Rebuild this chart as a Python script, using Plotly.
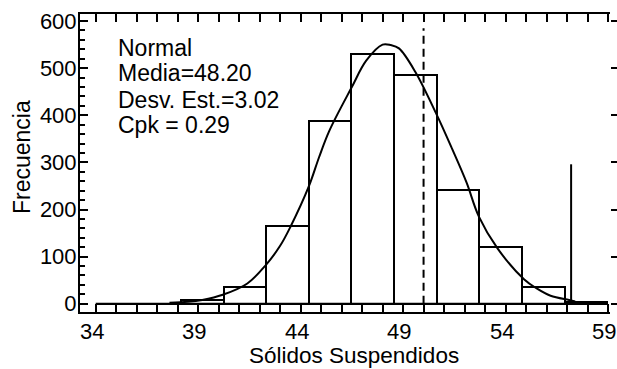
import plotly.graph_objects as go

# ---- data ----
bin_start = 34.0
bin_width = 2.08
counts = [0, 0, 8, 35, 165, 387, 530, 486, 241, 120, 35, 4]

curve_x = [37.6, 38.5, 39.2, 40.2, 41.4, 42.3, 43.0, 43.5, 44.4, 44.9, 45.4, 46.5,
           47.2, 48.0, 48.4, 48.8, 49.6, 50.6, 51.4, 52.1, 52.7, 53.6, 54.9, 55.5,
           56.2, 57.1, 57.4]
curve_y = [2, 4, 8, 19, 43, 82, 123, 163, 249, 311, 367, 460,
           516, 550, 549, 542, 492, 405, 328, 257, 185, 118, 52, 33,
           17, 8, 5]

target_x = 50.0
target_top = 585
limit_x = 57.2
limit_top = 296

x_ticks = [34, 39, 44, 49, 54, 59]
y_ticks = [0, 100, 200, 300, 400, 500, 600]

stats_lines = ["Normal", "Media=48.20", "Desv. Est.=3.02", "Cpk = 0.29"]
x_title = "Sólidos Suspendidos"
y_title = "Frecuencia"

# ---- figure ----
centers = [bin_start + bin_width * (i + 0.5) for i in range(len(counts))]
edges_end = bin_start + bin_width * len(counts)

FONT = "Liberation Sans, Arial, sans-serif"
fig = go.Figure()

fig.add_trace(go.Bar(
    x=centers, y=counts, width=bin_width,
    marker=dict(color="rgba(0,0,0,0)", line=dict(color="black", width=2)),
    showlegend=False, hoverinfo="skip"))

# histogram baseline
fig.add_trace(go.Scatter(
    x=[bin_start, edges_end], y=[0, 0], mode="lines",
    line=dict(color="black", width=2), showlegend=False, hoverinfo="skip"))

fig.add_trace(go.Scatter(
    x=curve_x, y=curve_y, mode="lines",
    line=dict(color="black", width=2, shape="spline", smoothing=1.0),
    showlegend=False, hoverinfo="skip"))

fig.add_trace(go.Scatter(
    x=[target_x, target_x], y=[0, target_top], mode="lines",
    line=dict(color="black", width=2, dash="8px,5px"),
    showlegend=False, hoverinfo="skip", yaxis="y2"))

fig.add_trace(go.Scatter(
    x=[limit_x, limit_x], y=[0, limit_top], mode="lines",
    line=dict(color="black", width=2),
    showlegend=False, hoverinfo="skip", yaxis="y2"))

yr = [-17.5, 615]

fig.update_layout(
    width=617, height=369, autosize=False,
    margin=dict(l=80, r=7, t=14, b=57, autoexpand=False),
    paper_bgcolor="white", plot_bgcolor="white",
    bargap=0,
    font=dict(family=FONT, size=22, color="black"),
    xaxis=dict(
        range=[33.234, 59.098], showgrid=False, zeroline=False, automargin=False,
        showline=True, linecolor="black", linewidth=2, mirror="allticks",
        ticks="inside", ticklen=8, tickwidth=2, tickcolor="black",
        tickvals=x_ticks, showticklabels=False,
        minor=dict(dtick=1, tick0=34, ticks="inside", ticklen=4, tickwidth=2,
                   tickcolor="black", showgrid=False),
    ),
    yaxis=dict(
        range=yr, showgrid=False, zeroline=False, automargin=False,
        showline=True, linecolor="black", linewidth=2, mirror=False,
        ticks="inside", ticklen=8, tickwidth=2, tickcolor="black",
        tickvals=y_ticks, ticktext=[str(v) for v in y_ticks],
        tickfont=dict(size=22), ticklabelstandoff=-3,
        minor=dict(dtick=20, tick0=0, ticks="inside", ticklen=5, tickwidth=2,
                   tickcolor="black", showgrid=False),
    ),
    yaxis2=dict(
        range=yr, overlaying="y", side="right", anchor="x", automargin=False,
        showgrid=False, zeroline=False, showline=False,
        ticks="outside", ticklen=6, tickwidth=2, tickcolor="black",
        tickvals=y_ticks, showticklabels=False,
    ),
)

def py2paper(py):
    return (312 - py) / 298.0

# x tick labels (slightly offset left, as in the reference)
for v in x_ticks:
    fig.add_annotation(
        text=str(v), xref="x", yref="paper", x=v, y=py2paper(332),
        xanchor="center", yanchor="middle", xshift=-4, showarrow=False,
        font=dict(size=22, family=FONT, color="black"))

line_centers = [47.5, 73.0, 99.5, 124.5]
for txt, pyc in zip(stats_lines, line_centers):
    fig.add_annotation(
        text=txt, xref="paper", yref="paper",
        x=(116.0 - 80) / 530.0, y=py2paper(pyc),
        xanchor="left", yanchor="middle", showarrow=False,
        font=dict(size=23, family=FONT, color="black"))

fig.add_annotation(
    text=x_title, xref="paper", yref="paper",
    x=(354 - 80) / 530.0, y=py2paper(355),
    xanchor="center", yanchor="middle", showarrow=False,
    font=dict(size=22.5, family=FONT, color="black"))

fig.add_annotation(
    text=y_title, xref="paper", yref="paper",
    x=(22 - 80) / 530.0, y=py2paper(157),
    xanchor="center", yanchor="middle", textangle=-90, showarrow=False,
    font=dict(size=23, family=FONT, color="black"))

fig.write_html("out.html")
